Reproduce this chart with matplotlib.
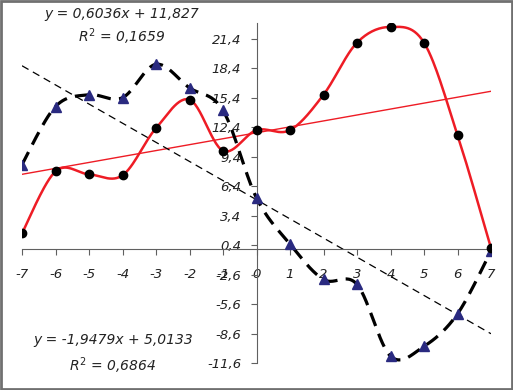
import numpy as np
import matplotlib
matplotlib.use('Agg')
import matplotlib.pyplot as plt
from matplotlib.patches import Rectangle

# ---- data ----
x_vals = [-7, -6, -5, -4, -3, -2, -1, 0, 1, 2, 3, 4, 5, 6, 7]
red_vals = [1.6, 7.9, 7.6, 7.5, 12.3, 15.2, 10.0, 12.1, 12.1, 15.7, 21.0, 22.6, 21.0, 11.6, 0.1]
blue_vals = [8.6, 14.5, 15.7, 15.4, 18.8, 16.4, 14.1, 5.2, 0.5, -3.1, -3.6, -10.9, -9.9, -6.6, -0.2]

# trendline coefficients (as printed on the chart)
red_slope, red_icpt, red_r2 = 0.6036, 11.827, 0.1659
blue_slope, blue_icpt, blue_r2 = -1.9479, 5.0133, 0.6864

y_ticks = [-11.6, -8.6, -5.6, -2.6, 0.4, 3.4, 6.4, 9.4, 12.4, 15.4, 18.4, 21.4]


def smooth(xs, ys, n=30):
    # Excel-like smoothed line: bezier segments with catmull-rom control points
    p = np.column_stack([xs, ys]).astype(float)
    p = np.vstack([p[0], p, p[-1]])
    out = []
    t = np.linspace(0, 1, n)[:, None]
    for i in range(1, len(p) - 2):
        p0, p1, p2, p3 = p[i - 1], p[i], p[i + 1], p[i + 2]
        c1 = p1 + (p2 - p0) / 6
        c2 = p2 - (p3 - p1) / 6
        seg = ((1 - t) ** 3) * p1 + 3 * ((1 - t) ** 2) * t * c1 + 3 * (1 - t) * t ** 2 * c2 + t ** 3 * p2
        out.append(seg)
    out = np.vstack(out)
    return out[:, 0], out[:, 1]


def comma(v, nd):
    return ('%.*f' % (nd, v)).replace('.', ',')


plt.rcParams['font.family'] = ['DejaVu Sans']

fig = plt.figure(figsize=(5.13, 3.9), dpi=100)
ax = fig.add_axes([22 / 513, 1 - 363 / 390, (491 - 22) / 513, (363 - 23) / 390])

# smoothed black dashed series with triangles
bx, by = smooth(x_vals, blue_vals)
ax.plot(bx, by, color='black', lw=2.3, dashes=(4.4, 2.6), zorder=3)
ax.plot(x_vals, blue_vals, ls='none', marker='^', ms=7, color='#2a2a80', zorder=4)

# smoothed red series with black dots
rx, ry = smooth(x_vals, red_vals)
ax.plot(rx, ry, color='#ee1c25', lw=1.8, zorder=5)
ax.plot(x_vals, red_vals, ls='none', marker='o', ms=6, color='black', zorder=6)

# linear trendlines
tx = np.array([x_vals[0], x_vals[-1]], dtype=float)
ax.plot(tx, red_slope * tx + red_icpt, color='#ee1c25', lw=1.0, zorder=2)
ax.plot(tx, blue_slope * tx + blue_icpt, color='black', lw=0.9, dashes=(6, 4), zorder=2)

ax.set_xlim(-7, 7)
ax.set_ylim(-11.6, 23.0)

for s in ['top', 'right']:
    ax.spines[s].set_visible(False)
ax.spines['left'].set_position(('data', 0))
ax.spines['bottom'].set_position(('data', 0))
for s in ['left', 'bottom']:
    ax.spines[s].set_color('#606060')
    ax.spines[s].set_linewidth(0.8)

ax.set_xticks(x_vals)
ax.set_xticklabels([str(v) for v in x_vals])
ax.set_yticks(y_ticks)
ax.set_yticklabels([comma(v, 1) for v in y_ticks])
ax.tick_params(axis='x', direction='out', length=4, width=0.8, color='#606060', pad=10)
ax.tick_params(axis='y', direction='out', length=4, width=0.8, color='#606060', pad=7)
for lab in ax.get_xticklabels() + ax.get_yticklabels():
    lab.set_fontstyle('italic')
    lab.set_fontsize(9.5)
    lab.set_color('#222222')

# trendline equations
eq_kw = dict(fontsize=10, style='italic', color='#222222', ha='center', va='center')
fig.text(122 / 513, 1 - 14 / 390,
         'y = %sx + %s' % (comma(red_slope, 4), comma(red_icpt, 3)), **eq_kw)
fig.text(122 / 513, 1 - 37 / 390, r'$R^2$ = ' + comma(red_r2, 4), **eq_kw)
fig.text(113 / 513, 1 - 340 / 390,
         'y = %sx + %s' % (comma(blue_slope, 4), comma(blue_icpt, 4)), **eq_kw)
fig.text(113 / 513, 1 - 366 / 390, r'$R^2$ = ' + comma(blue_r2, 4), **eq_kw)

# chart border
fig.patches.append(Rectangle((0.002, 0.003), 0.996, 0.994, transform=fig.transFigure,
                             fill=False, edgecolor='#707070', lw=2))

fig.savefig('out.png', dpi=100)
